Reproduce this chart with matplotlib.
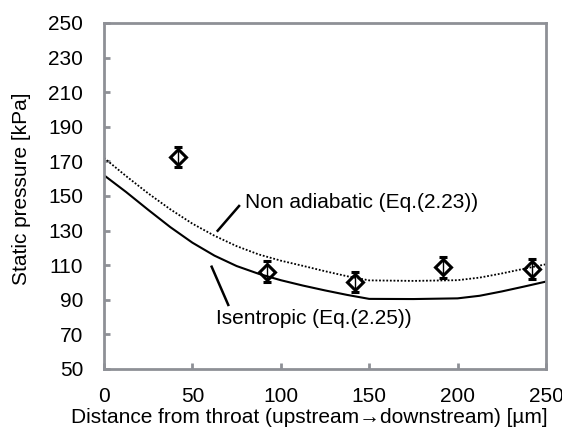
import numpy as np
import matplotlib
matplotlib.use('Agg')
import matplotlib.pyplot as plt

plt.rcParams['font.family'] = ['Liberation Sans', 'DejaVu Sans']

# measured static pressure with error bars
x_meas = [42, 92, 142, 192, 242]
p_meas = [172.5, 106.3, 100.3, 108.8, 107.8]
p_err = [6, 6, 6, 6, 6]

# calculated curves
x_calc = [0, 12.5, 25, 37.5, 50, 62.5, 75, 87.5, 100, 112.5, 125, 137.5, 150,
          175, 200, 212.5, 225, 237.5, 250]
p_isen = [162, 152.3, 142, 132, 123, 115.5, 109.5, 105, 101.3, 98.2, 95.4, 92.8, 90.5,
          90.4, 90.8, 92.3, 94.8, 97.6, 100.5]
p_nonad = [172, 161.5, 151.5, 142.3, 134, 127, 121, 116.2, 112.6, 109.6, 106.5, 103.6, 101.2,
           100.9, 101.3, 102.8, 105.2, 107.9, 110.5]

xticks = [0, 50, 100, 150, 200, 250]
yticks = [50, 70, 90, 110, 130, 150, 170, 190, 210, 230, 250]

gray = '#8e9096'
fs = 15

fig = plt.figure(figsize=(5.62, 4.28), dpi=100)
ax = fig.add_axes([0.185, 0.138, 0.7865, 0.8083])

ax.plot(x_calc, p_isen, color='black', lw=1.5)
ax.plot(x_calc, p_nonad, color='black', lw=1.3, linestyle=(0, (1, 1)))
ax.errorbar(x_meas, p_meas, yerr=p_err, fmt='D', ms=8, mfc='none', mec='black', mew=2.2,
            ecolor='black', elinewidth=1, capsize=3, capthick=1)

# labels with leader lines
ax.plot([64.3, 76.4], [129.9, 144.2], color='black', lw=1.8)
ax.text(79.8, 146.5, 'Non adiabatic (Eq.(2.23))', fontsize=fs, va='center', ha='left')
ax.plot([60.9, 70.3], [109.1, 87.0], color='black', lw=1.8)
ax.text(63.3, 78.9, 'Isentropic (Eq.(2.25))', fontsize=fs, va='center', ha='left')

ax.set_xlim(0, 250)
ax.set_ylim(50, 250)
ax.set_xticks(xticks)
ax.set_yticks(yticks)
ax.tick_params(direction='in', length=4, width=2, color=gray, labelsize=fs)
ax.tick_params(axis='y', pad=15)
ax.tick_params(axis='x', pad=13)
for s in ax.spines.values():
    s.set_color(gray)
    s.set_linewidth(2)

ax.set_xlabel('Distance from throat (upstream\u2192downstream) [\u00b5m]', fontsize=fs)
ax.xaxis.set_label_coords(0.464, -0.112)
ax.set_ylabel('Static pressure [kPa]', fontsize=fs)
ax.yaxis.set_label_coords(-0.165, 0.52)

plt.savefig('out.png', dpi=100)
